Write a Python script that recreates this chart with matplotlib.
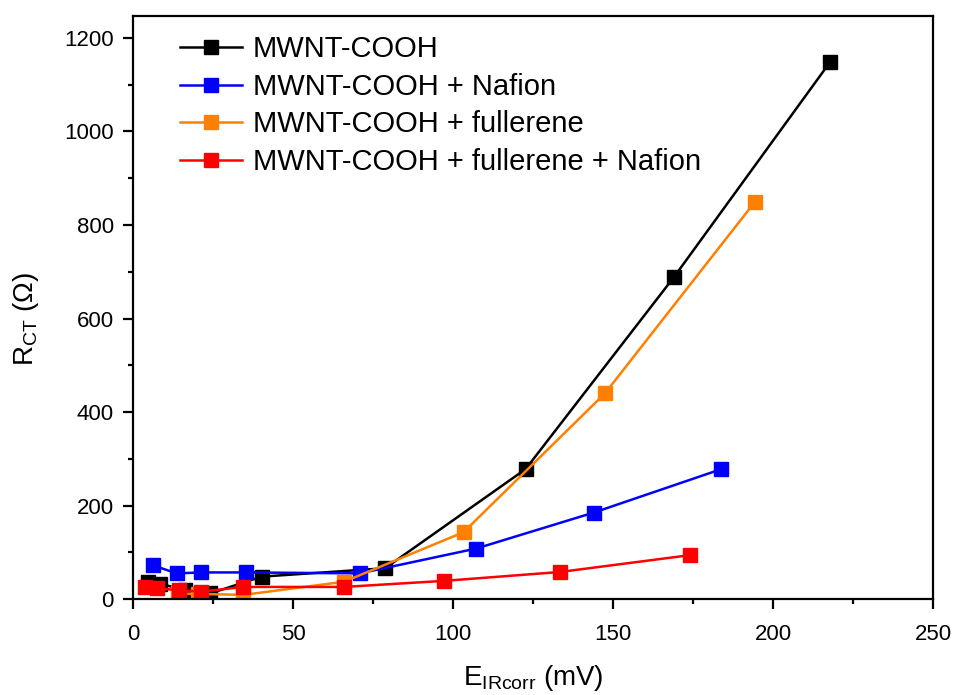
import matplotlib.pyplot as plt
from matplotlib.ticker import MultipleLocator

plt.rcParams['font.family'] = ['Liberation Sans', 'DejaVu Sans']
plt.rcParams['mathtext.fontset'] = 'custom'
plt.rcParams['mathtext.rm'] = 'Liberation Sans'
plt.rcParams['mathtext.it'] = 'Liberation Sans:italic'

# data
labels = ['MWNT-COOH', 'MWNT-COOH + Nafion', 'MWNT-COOH + fullerene',
          'MWNT-COOH + fullerene + Nafion']
colors = ['#000000', '#0000ff', '#ff8000', '#ff0000']

x_black = [4.7, 8.3, 16.2, 24.0, 40.1, 78.7, 122.6, 169.0, 217.7]
y_black = [37, 33, 19, 12, 48, 66, 278, 689, 1148]

x_blue = [6.2, 13.6, 21.2, 35.2, 70.8, 107.1, 143.9, 183.8]
y_blue = [72, 55, 57, 57, 55, 108, 185, 278]

x_orange = [14.1, 20.3, 34.4, 65.8, 103.2, 147.4, 194.2]
y_orange = [12, 11, 9, 37, 143, 440, 849]

x_red = [3.6, 7.3, 14.4, 21.3, 34.4, 65.8, 97.2, 133.4, 174.0]
y_red = [26, 23, 19, 16, 26, 26, 39, 58, 94]

xs = [x_black, x_blue, x_orange, x_red]
ys = [y_black, y_blue, y_orange, y_red]

fig = plt.figure(figsize=(9.54, 6.95), dpi=100)
ax = fig.add_axes([0.1397, 0.138, 0.8386, 0.839])

for x, y, c, lab in zip(xs, ys, colors, labels):
    ax.plot(x, y, '-s', color=c, lw=1.8, ms=9.5, mec=c, label=lab)

ax.set_xlim(0, 250)
ax.set_ylim(0, 1247)
ax.xaxis.set_major_locator(MultipleLocator(50))
ax.xaxis.set_minor_locator(MultipleLocator(25))
ax.yaxis.set_major_locator(MultipleLocator(200))
ax.yaxis.set_minor_locator(MultipleLocator(100))
ax.tick_params(which='both', direction='out', top=False, right=False,
               labelsize=16, width=1.6)
ax.tick_params(which='major', length=7)
ax.tick_params(which='minor', length=3.5)
ax.tick_params(axis='x', pad=11)
ax.tick_params(axis='y', pad=7)
for s in ax.spines.values():
    s.set_linewidth(1.6)

ax.set_xlabel(r'E$_{\mathrm{IRcorr}}$ (mV)', fontsize=20, va='top')
ax.set_ylabel(r'R$_{\mathrm{CT}}$ ($\Omega$)', fontsize=20)
ax.xaxis.set_label_coords(0.5, -0.11)
ax.yaxis.set_label_coords(-0.115, 0.48)

ax.legend(loc='upper left', frameon=False, fontsize=21, handlelength=2.1,
          handletextpad=0.38, borderpad=0, borderaxespad=0,
          bbox_to_anchor=(0.059, 0.967), labelspacing=0.33)

fig.savefig('out.png', dpi=100)
